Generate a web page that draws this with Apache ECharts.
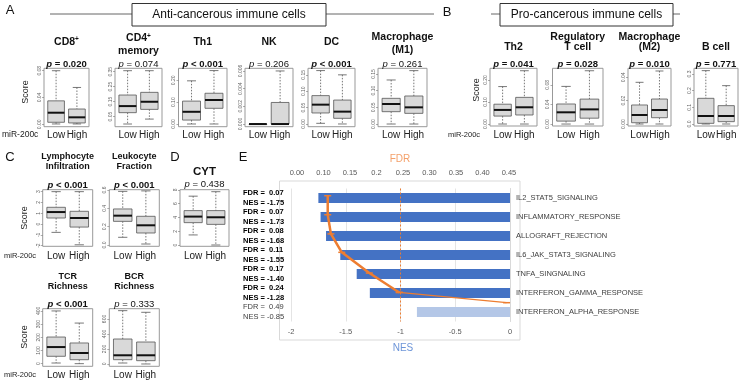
<!DOCTYPE html>
<html>
<head>
<meta charset="utf-8">
<script src="https://cdn.jsdelivr.net/npm/echarts@6/dist/echarts.min.js"></script>
<style>
html, body { margin: 0; padding: 0; background: #fff; }
#main { width: 743px; height: 383px; }
</style>
</head>
<body>
<div id="main"></div>
<script>
/* miR-200c Low / High immune cell scores + GSEA hallmark panel */

const groups = ['Low', 'High'];

// box stats: [min, Q1, median, Q3, max] for Low and High
const boxCD8 = [[0.0005, 0.003, 0.0173, 0.035, 0.08], [0.0005, 0.002, 0.0104, 0.0228, 0.055]];
const boxCD4 = [[0, 0.076, 0.120, 0.194, 0.357], [0.033, 0.098, 0.149, 0.212, 0.357]];
const boxTh1 = [[0, 0.018, 0.056, 0.105, 0.198], [0, 0.072, 0.110, 0.141, 0.245]];
const boxNK = [[0, 0, 0, 0, 0], [0, 0, 0, 0.00244, 0.006]];
const boxDC = [[0.002, 0.0336, 0.059, 0.0866, 0.163], [0, 0.0173, 0.0377, 0.073, 0.15]];
const boxM1 = [[0, 0.037, 0.06, 0.077, 0.132], [0, 0.032, 0.05, 0.084, 0.16]];
const boxTh2 = [[0, 0.036, 0.064, 0.09, 0.17], [0, 0.041, 0.076, 0.121, 0.242]];
const boxTreg = [[0, 0.006, 0.024, 0.041, 0.077], [0, 0.012, 0.030, 0.051, 0.109]];
const boxM2 = [[0, 0.0011, 0.0077, 0.0163, 0.0357], [0, 0.0054, 0.012, 0.0214, 0.0454]];
const boxBcell = [[0, 0.004, 0.048, 0.154, 0.32], [0, 0.014, 0.048, 0.11, 0.23]];
const boxLymph = [[-0.77, 0.56, 1.11, 1.55, 3.0], [-1.92, -0.28, 0.56, 1.18, 3.0]];
const boxLeuk = [[0.084, 0.258, 0.32, 0.393, 0.585], [0.011, 0.131, 0.215, 0.313, 0.59]];
const boxCYT = [[1.46, 3.25, 4.13, 5.0, 7.1], [0, 3.0, 4.03, 5.0, 7.75]];
const boxTCR = [[5, 56, 126, 202, 400], [0, 30, 81, 157, 308]];
const boxBCR = [[13, 57, 116, 333, 711], [0, 44, 116, 293, 689]];

// y tick labels
const tickCD8 = ['0.00', '0.04', '0.08'];
const tickCD4 = ['0.05', '0.15', '0.25', '0.35'];
const tickTh1 = ['0.00', '0.10', '0.20'];
const tickNK = ['0.000', '0.002', '0.004', '0.006'];
const tickDC = ['0.00', '0.05', '0.10', '0.15'];
const tickM1 = ['0.00', '0.05', '0.10', '0.15'];
const tickTh2 = ['0.00', '0.10', '0.20'];
const tickTreg = ['0.00', '0.04', '0.08'];
const tickM2 = ['0.00', '0.02', '0.04'];
const tickBcell = ['0.0', '0.1', '0.2', '0.3'];
const tickLymph = ['-2', '-1', '0', '1', '2', '3'];
const tickLeuk = ['0.0', '0.2', '0.4', '0.6'];
const tickCYT = ['0', '2', '4', '6', '8'];
const tickTCR = ['0', '100', '200', '300', '400'];
const tickBCR = ['0', '200', '400', '600'];

// titles and p values
const titles = ['CD8{s|+}', 'CD4{s|+}\nmemory', 'Th1', 'NK', 'DC', 'Macrophage\n(M1)',
    'Th2', 'Regulatory\nT cell', 'Macrophage\n(M2)', 'B cell',
    'Lymphocyte\nInfiltration', 'Leukocyte\nFraction', 'CYT', 'TCR\nRichness', 'BCR\nRichness'];
const pTexts = ['= 0.020', '= 0.074', '< 0.001', '= 0.206', '< 0.001', '= 0.261',
    '= 0.041', '= 0.028', '= 0.010', '= 0.771',
    '< 0.001', '< 0.001', '= 0.438', '< 0.001', '= 0.333'];
const pBold = [true, false, true, false, true, false,
    true, true, true, true,
    true, true, false, true, false];

// GSEA panel
const pathways = ['IL2_STAT5_SIGNALING', 'INFLAMMATORY_RESPONSE', 'ALLOGRAFT_REJECTION',
    'IL6_JAK_STAT3_SIGNALING', 'TNFA_SINGNALING', 'INTERFERON_GAMMA_RESPONSE', 'INTERFERON_ALPHA_RESPONSE'];
const nes = [-1.75, -1.73, -1.68, -1.55, -1.40, -1.28, -0.85];
const fdr = [0.07, 0.07, 0.08, 0.11, 0.17, 0.24, 0.49];
const fdrTickLabels = ['0.00', '0.10', '0.15', '0.2', '0.25', '0.30', '0.35', '0.40', '0.45'];
// FDR line as drawn: position along the top axis (tick steps) and row
const fdrLineX = [1.16, 1.16, 1.28, 1.69, 2.73, 3.86, 7.91];
const fdrLineRow = [-0.12, 0.88, 1.89, 2.86, 3.95, 4.97, 5.51];

const FONT = 'Liberation Sans, Arial, sans-serif';

// frame: [left, top, width, height]
let panels = [
    { box: boxCD8, ticks: tickCD8, frame: [44, 68.3, 45, 58.4], range: [-0.0036, 0.0836], tY: 41.7, pY: 64, lY: 135 },
    { box: boxCD4, ticks: tickCD4, frame: [115, 68.3, 47, 58.4], range: [-0.018, 0.373], tY: 44.8, pY: 64, lY: 135 },
    { box: boxTh1, ticks: tickTh1, frame: [178.5, 68.3, 48.5, 58.4], range: [-0.0124, 0.2555], tY: 41.7, pY: 64, lY: 135 },
    { box: boxNK, ticks: tickNK, frame: [245, 68.3, 48, 58.4], range: [-0.0003, 0.0063], tY: 41.7, pY: 64, lY: 135 },
    { box: boxDC, ticks: tickDC, frame: [308, 68.3, 47, 58.4], range: [-0.0083, 0.170], tY: 41.7, pY: 64, lY: 135 },
    { box: boxM1, ticks: tickM1, frame: [378, 68.3, 49, 58.4], range: [-0.008, 0.167], tY: 43.8, pY: 64, lY: 135 },
    { box: boxTh2, ticks: tickTh2, frame: [490, 68.3, 47, 57.7], range: [-0.009, 0.253], tY: 46.7, pY: 64, lY: 135 },
    { box: boxTreg, ticks: tickTreg, frame: [552.5, 68.3, 50.5, 57.7], range: [-0.004, 0.114], tY: 42, pY: 64, lY: 135, lh: 10 },
    { box: boxM2, ticks: tickM2, frame: [628, 68.3, 43, 57.7], range: [-0.0017, 0.0477], tY: 42, pY: 64, lY: 135, lh: 10 },
    { box: boxBcell, ticks: tickBcell, frame: [694, 68.3, 44, 57.7], range: [-0.012, 0.334], tY: 46.7, pY: 64, lY: 135 },
    { box: boxLymph, ticks: tickLymph, frame: [42.7, 189.7, 50, 56.6], range: [-2.06, 3.18], tY: 161.7, pY: 185.3, lY: 256.3, small: true },
    { box: boxLeuk, ticks: tickLeuk, frame: [109.3, 189.7, 50, 56.6], range: [-0.014, 0.603], tY: 161.7, pY: 185.3, lY: 256.3, small: true },
    { box: boxCYT, ticks: tickCYT, frame: [180, 189.7, 49, 56.6], range: [-0.19, 8.04], tY: 172.3, pY: 184, lY: 256.3, big: true },
    { box: boxTCR, ticks: tickTCR, frame: [42.7, 308.7, 50, 57.6], range: [-20, 417], tY: 281.7, pY: 304.7, lY: 375.3, small: true },
    { box: boxBCR, ticks: tickBCR, frame: [109.3, 308.7, 50, 57.6], range: [-31, 737], tY: 281.7, pY: 304.7, lY: 375.3, small: true }
];

function renderBox(params, api) {
    let x = api.value(0);
    let cx = api.coord([x, api.value(3)])[0];
    let ys = [1, 2, 3, 4, 5].map(k => api.coord([x, api.value(k)])[1]);
    let w = api.size([0.8, 0])[0];
    let hw = w / 2, cap = w / 4;
    let dotted = { stroke: '#555', lineWidth: 0.8, lineDash: [1.5, 1.5] };
    let solid = { stroke: '#555', lineWidth: 0.8 };
    return {
        type: 'group',
        children: [
            { type: 'line', shape: { x1: cx, y1: ys[4], x2: cx, y2: ys[3] }, style: dotted },
            { type: 'line', shape: { x1: cx, y1: ys[1], x2: cx, y2: ys[0] }, style: dotted },
            { type: 'line', shape: { x1: cx - cap, y1: ys[4], x2: cx + cap, y2: ys[4] }, style: solid },
            { type: 'line', shape: { x1: cx - cap, y1: ys[0], x2: cx + cap, y2: ys[0] }, style: solid },
            { type: 'rect', shape: { x: cx - hw, y: ys[3], width: w, height: Math.max(ys[1] - ys[3], 0.5) },
              style: { fill: '#d9d9d9', stroke: '#555', lineWidth: 0.8 } },
            { type: 'line', shape: { x1: cx - hw, y1: ys[2], x2: cx + hw, y2: ys[2] }, style: { stroke: '#111', lineWidth: 2 } }
        ]
    };
}

let grid = [], xAxis = [], yAxis = [], series = [], graphic = [];

panels.forEach((pn, i) => {
    let [l, t, w, h] = pn.frame;
    let tv = pn.ticks.map(Number);
    grid.push({ left: l, top: t, width: w, height: h, show: true, borderColor: '#999', borderWidth: 1, backgroundColor: 'transparent' });
    xAxis.push({
        gridIndex: i, type: 'value', min: 0.42, max: 2.58,
        axisLine: { show: false }, axisTick: { show: false }, splitLine: { show: false },
        axisLabel: {
            customValues: [1, 2], formatter: v => groups[Math.round(v) - 1],
            fontFamily: FONT, fontSize: 10, color: '#222', margin: pn.lY - (t + h) - 5
        }
    });
    yAxis.push({
        gridIndex: i, type: 'value', min: pn.range[0], max: pn.range[1],
        axisLine: { show: false }, splitLine: { show: false },
        axisTick: { show: true, customValues: tv, length: 2, lineStyle: { color: '#777', width: 0.6 } },
        axisLabel: {
            customValues: tv, rotate: 90, fontFamily: FONT, fontSize: 5, color: '#666', margin: 2,
            formatter: v => pn.ticks[tv.findIndex(x => Math.abs(x - v) < 1e-9)]
        }
    });
    series.push({
        type: 'custom', xAxisIndex: i, yAxisIndex: i,
        renderItem: renderBox,
        encode: { x: 0, y: [1, 2, 3, 4, 5] },
        data: pn.box.map((s, k) => [k + 1].concat(s))
    });

    let fs = pn.big ? 11.5 : (pn.small ? 9 : 10.5);
    graphic.push({
        type: 'text', x: l + w / 2, y: pn.tY,
        style: {
            text: titles[i], align: 'center', verticalAlign: 'middle',
            fontFamily: FONT, fontWeight: 'bold', fontSize: fs, fill: '#111',
            lineHeight: pn.lh || (pn.small ? 10 : 12.5),
            rich: { s: { fontFamily: FONT, fontWeight: 'bold', fontSize: 6.5, verticalAlign: 'top', fill: '#111' } }
        }
    });
    let wt = pBold[i] ? 'bold' : 'normal';
    graphic.push({
        type: 'text', x: l + w / 2, y: pn.pY,
        style: {
            text: '{i|p} ' + pTexts[i], align: 'center', verticalAlign: 'middle',
            fontFamily: FONT, fontWeight: wt, fontSize: 9.5, fill: '#111',
            rich: { i: { fontFamily: FONT, fontWeight: wt, fontStyle: 'italic', fontSize: 9.5, fill: '#111' } }
        }
    });
});

// GSEA panel E
let gi = panels.length;
grid.push({ left: 291, top: 188.5, width: 219, height: 133 });
xAxis.push({
    gridIndex: gi, type: 'value', position: 'bottom', min: -2, max: 0, interval: 0.5,
    axisLine: { show: false }, axisTick: { show: false },
    splitLine: { show: true, lineStyle: { color: '#e4e4e4', width: 1 } },
    axisLabel: { fontFamily: FONT, fontSize: 7.5, color: '#595959', margin: 6 }
});
xAxis.push({
    gridIndex: gi, type: 'value', position: 'top', min: -0.226, max: 8.04,
    axisLine: { show: false }, axisTick: { show: false }, splitLine: { show: false },
    axisLabel: {
        customValues: fdrTickLabels.map((s, k) => k),
        formatter: v => fdrTickLabels[Math.round(v)],
        fontFamily: FONT, fontSize: 7.5, color: '#595959', margin: 12
    }
});
yAxis.push({
    gridIndex: gi, type: 'category', position: 'right', inverse: true, data: pathways,
    axisLine: { show: true, lineStyle: { color: '#d9d9d9' } }, axisTick: { show: false },
    axisLabel: { interval: 0, fontFamily: FONT, fontSize: 7.5, color: '#404040', margin: 6 }
});
yAxis.push({
    gridIndex: gi, type: 'category', position: 'left', inverse: true,
    data: fdr.map((f, k) => 'FDR =  ' + f.toFixed(2) + '\nNES = ' + nes[k].toFixed(2)),
    axisLine: { show: false }, axisTick: { show: false },
    axisLabel: {
        interval: 0, align: 'left', margin: 48,
        formatter: (v, k) => v.split('\n').map(s => (fdr[k] > 0.25 ? '{n|' : '{b|') + s + '}').join('\n'),
        rich: {
            b: { fontFamily: FONT, fontWeight: 'bold', fontSize: 7.5, color: '#000', lineHeight: 10 },
            n: { fontFamily: FONT, fontSize: 7.5, color: '#404040', lineHeight: 10 }
        }
    }
});
yAxis.push({ gridIndex: gi, type: 'value', min: -0.5, max: 6.5, inverse: true, show: false });

let yR = yAxis.length - 3, yV = yAxis.length - 1;
let xN = xAxis.length - 2, xF = xAxis.length - 1;
series.push({
    type: 'bar', xAxisIndex: xN, yAxisIndex: yR, data: nes, barWidth: 10,
    itemStyle: { color: p => (fdr[p.dataIndex] > 0.25 ? '#b4c7e7' : '#4472c4') },
    markLine: {
        silent: true, symbol: 'none', label: { show: false },
        lineStyle: { color: '#ed7d31', type: [2, 2], width: 1 },
        data: [{ xAxis: -1 }]
    }
});
let pts = fdrLineX.map((v, k) => [v, fdrLineRow[k]]);
series.push({
    type: 'line', xAxisIndex: xF, yAxisIndex: yV, data: pts.slice(0, 6), z: 5,
    lineStyle: { color: '#ed7d31', width: 2.5 }, itemStyle: { color: '#ed7d31' },
    symbol: 'rect', symbolSize: [7, 1.5], showSymbol: true
});
series.push({
    type: 'line', xAxisIndex: xF, yAxisIndex: yV, data: pts.slice(5), z: 4,
    lineStyle: { color: '#ed7d31', width: 1.3 }, itemStyle: { color: '#ed7d31' },
    symbol: 'rect', symbolSize: [7, 1.5], showSymbol: true
});

function txt(x, y, s, o) {
    graphic.push({
        type: 'text', x: x, y: y, rotation: o.rot || 0,
        style: Object.assign({ text: s, fontFamily: FONT, fontSize: 9, fill: '#222', align: 'center', verticalAlign: 'middle' }, o.st || {})
    });
}

// headers
graphic.push({ type: 'line', shape: { x1: 50, y1: 14, x2: 434, y2: 14 }, style: { stroke: '#666', lineWidth: 1 } });
graphic.push({ type: 'rect', shape: { x: 132, y: 3.5, width: 194, height: 22.5 }, style: { fill: '#fff', stroke: '#333', lineWidth: 1 } });
txt(229, 15, 'Anti-cancerous immune cells', { st: { fontSize: 12, fill: '#111' } });
graphic.push({ type: 'line', shape: { x1: 491, y1: 14, x2: 680, y2: 14 }, style: { stroke: '#666', lineWidth: 1 } });
graphic.push({ type: 'rect', shape: { x: 500, y: 3.5, width: 173, height: 22.5 }, style: { fill: '#fff', stroke: '#333', lineWidth: 1 } });
txt(586.5, 15, 'Pro-cancerous immune cells', { st: { fontSize: 12, fill: '#111' } });

// panel letters
[['A', 10, 10], ['B', 447, 12], ['C', 10, 157], ['D', 175, 157], ['E', 243, 157]].forEach(a => {
    txt(a[1], a[2], a[0], { st: { fontSize: 13, fill: '#111' } });
});

// axis notes
txt(2, 135, 'miR-200c', { st: { fontSize: 8.5, align: 'left' } });
txt(448, 135, 'miR-200c', { st: { fontSize: 7.5, align: 'left' } });
txt(4, 256.3, 'miR-200c', { st: { fontSize: 7.5, align: 'left' } });
txt(4, 375.3, 'miR-200c', { st: { fontSize: 7.5, align: 'left' } });
[[26, 92], [477, 90], [25, 218], [25, 337]].forEach(a => {
    txt(a[0], a[1], 'Score', { rot: Math.PI / 2, st: { fontSize: 9 } });
});

// E frame and axis titles
graphic.push({ type: 'rect', z: -1, shape: { x: 279.5, y: 181, width: 240.5, height: 159 }, style: { fill: 'none', stroke: '#d9d9d9', lineWidth: 1 } });
txt(400, 159, 'FDR', { st: { fontSize: 10, fill: '#f4a06a' } });
txt(403, 348, 'NES', { st: { fontSize: 10, fill: '#6d95d8' } });

let option = {
    animation: false,
    backgroundColor: '#fff',
    grid: grid,
    xAxis: xAxis,
    yAxis: yAxis,
    series: series,
    graphic: graphic
};
let chart = echarts.init(document.getElementById('main'), null, { renderer: 'canvas' });
chart.setOption(option);
</script>
</body>
</html>
